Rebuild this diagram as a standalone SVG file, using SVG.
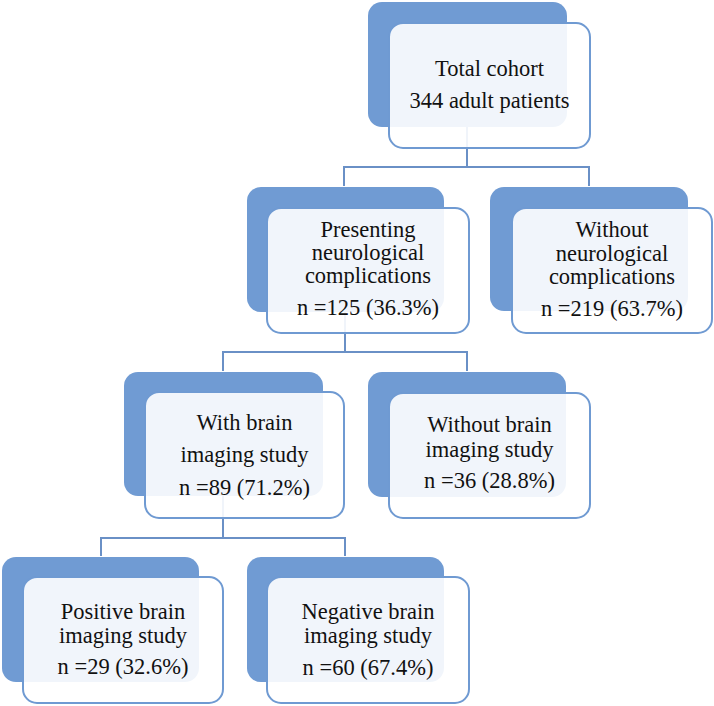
<svg xmlns="http://www.w3.org/2000/svg" width="714" height="706" viewBox="0 0 714 706">
<style>
.back{fill:#709bd3;}
.front{fill:#ffffff;fill-opacity:0.9;stroke:#6f9ad2;stroke-width:2;}
.conn{fill:none;stroke:#6a90c6;stroke-width:2;}
text{font-family:"Liberation Serif","Times New Roman",serif;font-size:22.5px;fill:#111111;text-anchor:middle;}
</style>
<rect width="714" height="706" fill="#ffffff"/>
<g id="connectors">
<path class="conn" d="M467,127 V167 M344,186 V167 H589 V186"/>
<path class="conn" d="M345,312 V352 M223,371 V352 H467 V371"/>
<path class="conn" d="M223,496 V538 M101,556 V538 H345 V556"/>
</g>
<g id="total">
<rect class="back" x="368" y="2" width="199" height="125" rx="14"/>
<rect class="front" x="389" y="23" width="201" height="125" rx="14"/>
<text x="489.5" y="76">Total cohort</text>
<text x="489.5" y="108">344 adult patients</text>
</g>
<g id="presenting">
<rect class="back" x="247" y="187" width="197" height="125" rx="14"/>
<rect class="front" x="267" y="208" width="202" height="125" rx="14"/>
<text x="368" y="237">Presenting</text>
<text x="368" y="260">neurological</text>
<text x="368" y="283">complications</text>
<text x="368" y="315">n =125 (36.3%)</text>
</g>
<g id="without-neuro">
<rect class="back" x="490" y="187" width="198" height="124" rx="14"/>
<rect class="front" x="512" y="208" width="200" height="125" rx="14"/>
<text x="612" y="237">Without</text>
<text x="612" y="261">neurological</text>
<text x="612" y="284">complications</text>
<text x="612" y="316">n =219 (63.7%)</text>
</g>
<g id="with-brain">
<rect class="back" x="124" y="372" width="199" height="124" rx="14"/>
<rect class="front" x="145" y="392" width="199" height="126" rx="14"/>
<text x="244.5" y="430">With brain</text>
<text x="244.5" y="462">imaging study</text>
<text x="244.5" y="495">n =89 (71.2%)</text>
</g>
<g id="without-brain">
<rect class="back" x="368" y="372" width="198" height="125" rx="14"/>
<rect class="front" x="389" y="393" width="201" height="125" rx="14"/>
<text x="489.5" y="432">Without brain</text>
<text x="489.5" y="457">imaging study</text>
<text x="489.5" y="488">n =36 (28.8%)</text>
</g>
<g id="positive">
<rect class="back" x="2" y="557" width="197" height="125" rx="14"/>
<rect class="front" x="23" y="577" width="200" height="126" rx="14"/>
<text x="123" y="619">Positive brain</text>
<text x="123" y="643">imaging study</text>
<text x="123" y="674">n =29 (32.6%)</text>
</g>
<g id="negative">
<rect class="back" x="247" y="557" width="197" height="125" rx="14"/>
<rect class="front" x="267" y="577" width="202" height="126" rx="14"/>
<text x="368" y="619">Negative brain</text>
<text x="368" y="643">imaging study</text>
<text x="368" y="675">n =60 (67.4%)</text>
</g>
</svg>
